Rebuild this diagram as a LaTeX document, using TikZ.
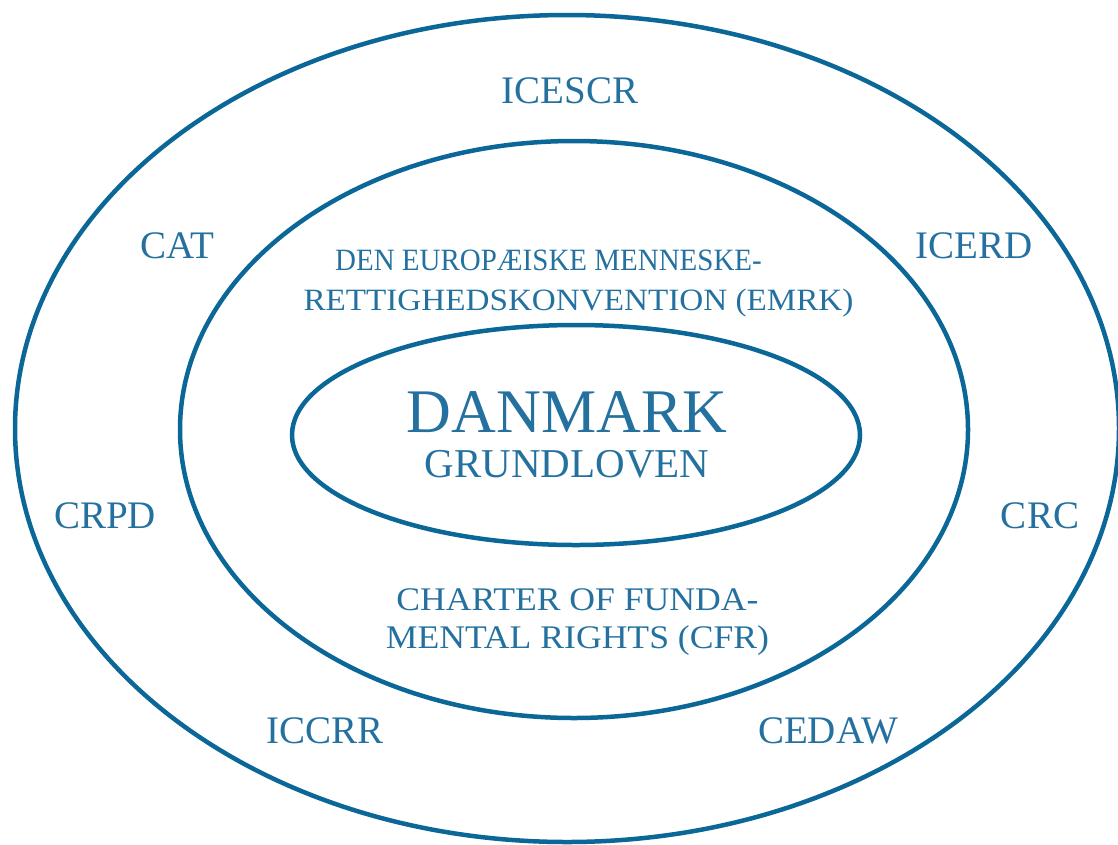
\documentclass[tikz,border=0pt]{standalone}
\usepackage{fontspec}
\setmainfont{Liberation Serif}
\usetikzlibrary{shapes.geometric}
\definecolor{ringc}{HTML}{0B6797}
\definecolor{txtc}{HTML}{2471A0}
\begin{document}
\begin{tikzpicture}[x=1pt,y=-1pt,
  ring/.style={draw=ringc,line width=4.5pt,ellipse,inner sep=0pt},
  lbl/.style={text=txtc,anchor=base,inner sep=0pt,font=\fontsize{39}{39}\selectfont},
  mid/.style={text=txtc,anchor=base,inner sep=0pt,font=\fontsize{31}{31}\selectfont},
  cfr/.style={text=txtc,anchor=base,inner sep=0pt,font=\fontsize{33}{33}\selectfont},
  big/.style={text=txtc,anchor=base,inner sep=0pt,font=\fontsize{62}{62}\selectfont},
  sub/.style={text=txtc,anchor=base,inner sep=0pt,font=\fontsize{41}{41}\selectfont}]
\useasboundingbox (0,0) rectangle (1118,844);
\node[ring,minimum width=1104pt,minimum height=827pt] (outer) at (567,428.5) {};
\node[ring,minimum width=788pt,minimum height=577pt] (middle) at (574,429.5) {};
\node[ring,minimum width=568pt,minimum height=220pt] (inner) at (576,435) {};
\node[lbl] (icescr) at (570,103) {ICESCR};
\node[lbl] (cat) at (177,258) {CAT};
\node[lbl] (icerd) at (974,258) {ICERD};
\node[lbl] (crpd) at (105,528) {CRPD};
\node[lbl] (crc) at (1040,528) {CRC};
\node[lbl] (iccrr) at (325,743) {ICCRR};
\node[lbl] (cedaw) at (828,743) {CEDAW};
\node[mid] (emrk1) at (548.5,270) {\scalebox{0.935}[1]{DEN EUROPÆISKE MENNESKE-}};
\node[mid] (emrk2) at (578.5,310) {\scalebox{1.07}[1]{RETTIGHEDSKONVENTION (EMRK)}};
\node[big] (dk) at (567,432) {DANMARK};
\node[sub] (gl) at (567,477) {GRUNDLOVEN};
\node[cfr] (cfr1) at (577.5,610) {\scalebox{1.08}[1]{CHARTER OF FUNDA-}};
\node[cfr] (cfr2) at (577.5,648) {\scalebox{1.08}[1]{MENTAL RIGHTS (CFR)}};
\end{tikzpicture}
\end{document}
